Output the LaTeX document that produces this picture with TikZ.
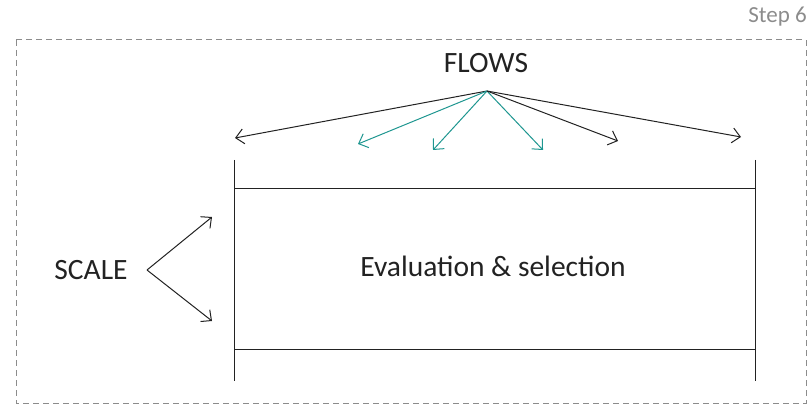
\documentclass[tikz,border=0pt]{standalone}
\usepackage{fontspec}
\setmainfont{Carlito}
\usetikzlibrary{arrows.meta}
\definecolor{ink}{HTML}{222222}
\definecolor{tealc}{HTML}{1E9690}
\definecolor{boxgray}{HTML}{8C8C8C}
\begin{document}
\begin{tikzpicture}[x=1pt,y=-1pt,
  lbl/.style={font=\fontsize{29.5}{34}\selectfont, text=ink, inner sep=0pt},
  steplbl/.style={font=\fontsize{23}{27}\selectfont, text=boxgray, inner sep=0pt, anchor=east},
  arr/.style={draw=ink, line width=1pt, -{Straight Barb[length=8pt,width=15pt]}},
  tarr/.style={arr, draw=tealc},
  bar/.style={draw=ink, line width=1pt},
  frame/.style={draw=boxgray, line width=1pt, dash pattern=on 6pt off 4pt}]
\useasboundingbox (0,0) rectangle (810,406);
\draw[frame] (16,40) rectangle (806,403);
\node[steplbl] (step) at (807,17) {Step 6};
\node[lbl] (flows) at (486,63) {FLOWS};
\coordinate (fo) at (487,91);
\coordinate (f1) at (235,138);
\coordinate (f2) at (358,144);
\coordinate (f3) at (433,150);
\coordinate (f4) at (543,150);
\coordinate (f5) at (618,141);
\coordinate (f6) at (741,137);
\draw[arr] (fo) -- (f1);
\draw[tarr] (fo) -- (f2);
\draw[tarr] (fo) -- (f3);
\draw[tarr] (fo) -- (f4);
\draw[arr] (fo) -- (f5);
\draw[arr] (fo) -- (f6);
\coordinate (lt) at (234,160);
\coordinate (lb) at (234,381);
\coordinate (rt) at (755,160);
\coordinate (rb) at (755,381);
\coordinate (h1l) at (234,188);
\coordinate (h1r) at (755,188);
\coordinate (h2l) at (234,349);
\coordinate (h2r) at (755,349);
\draw[bar] (lt) -- (lb);
\draw[bar] (rt) -- (rb);
\draw[bar] (h1l) -- (h1r);
\draw[bar] (h2l) -- (h2r);
\node[lbl] (eval) at (493,266) {Evaluation \& selection};
\node[lbl] (scale) at (91,270) {SCALE};
\coordinate (so) at (147,270);
\coordinate (s1) at (212,217);
\coordinate (s2) at (212,321);
\draw[arr] (so) -- (s1);
\draw[arr] (so) -- (s2);
\end{tikzpicture}
\end{document}
